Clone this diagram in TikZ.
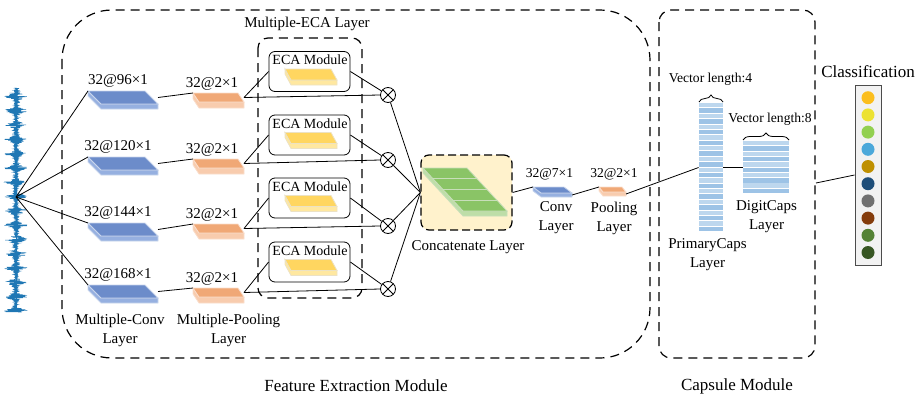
\documentclass[tikz,border=0pt]{standalone}
\usepackage{fontspec}
\setmainfont{Liberation Serif}
\usetikzlibrary{decorations.pathreplacing}

\definecolor{sigblue}{RGB}{31,119,180}
\definecolor{convtop}{RGB}{108,140,202}
\definecolor{convside}{RGB}{150,176,224}
\definecolor{convedge}{RGB}{200,213,236}
\definecolor{pooltop}{RGB}{240,168,118}
\definecolor{poolside}{RGB}{248,204,174}
\definecolor{pooledge}{RGB}{250,222,204}
\definecolor{ecatop}{RGB}{255,214,96}
\definecolor{ecaside}{RGB}{255,232,160}
\definecolor{ecaedge}{RGB}{236,226,196}
\definecolor{cattop}{RGB}{138,196,102}
\definecolor{catside}{RGB}{190,222,168}
\definecolor{catedge}{RGB}{200,222,186}
\definecolor{catfill}{RGB}{255,242,204}
\definecolor{capsA}{RGB}{189,215,238}
\definecolor{capsB}{RGB}{157,195,230}
\definecolor{clsA}{RGB}{251,190,30}
\definecolor{clsB}{RGB}{236,226,50}
\definecolor{clsC}{RGB}{146,208,80}
\definecolor{clsD}{RGB}{75,168,218}
\definecolor{clsE}{RGB}{191,144,0}
\definecolor{clsF}{RGB}{31,78,121}
\definecolor{clsG}{RGB}{112,112,112}
\definecolor{clsH}{RGB}{132,60,12}
\definecolor{clsI}{RGB}{84,130,53}
\definecolor{clsJ}{RGB}{55,86,35}

% flat 3d block: name, x, y, width, dx, dy, height, colour prefix
\newcommand{\slab}[8]{%
  \filldraw[draw=#8edge, fill=#8side] (#2,#3) -- ++(#5,#6) -- ++(#4,0) -- ++(0,#7) -- ++(-#4,0) -- ++(-#5,-#6) -- cycle;
  \filldraw[draw=#8edge, fill=#8top] (#2,#3) -- ++(#4,0) -- ++(#5,#6) -- ++(-#4,0) -- cycle;
  \coordinate (#1-in) at (#2,#3);
  \coordinate (#1-out) at ({#2+#4+#5},{#3+#6/2});
  \coordinate (#1-low) at ({#2+#4+#5},{#3+#6+#7/2});
}

\begin{document}
\begin{tikzpicture}[x=1pt,y=-1pt,line width=0.8pt]
  \tikzstyle{every node}=[font=\fontsize{15}{19}\selectfont, align=center, inner sep=0pt]
  \tikzstyle{module}=[draw, dash pattern=on 9pt off 6pt, line width=1.2pt]
  \tikzstyle{big}=[font=\fontsize{17}{21}\selectfont]
  \tikzstyle{small}=[font=\fontsize{13.6}{16}\selectfont]
  \tikzstyle{ecabox}=[draw, rounded corners=6pt, minimum width=81, minimum height=40]
  \tikzstyle{mult}=[circle, draw, fill=white, minimum size=15,
    path picture={\draw (path picture bounding box.north west) -- (path picture bounding box.south east)
      (path picture bounding box.south west) -- (path picture bounding box.north east);}]
  \tikzstyle{clsdot}=[circle, minimum size=13]
  \useasboundingbox (0,0) rectangle (915,399);

  % input signal
  \pgfmathsetseed{7}
  \draw[sigblue, line width=0.6pt] plot[domain=88:312, samples=1500, variable=\t]
    ({16+(1.8+10*exp(-1*pow(mod(\t-78.7,14.3)-3.5,2)/7))*rand}, \t);
  \draw[sigblue, line width=0.8pt] (16,88) -- (16,312);
  \coordinate (src) at (16,197);

  % module frames
  \draw[module, rounded corners=50pt] (62,10) rectangle (650,358);
  \draw[module, rounded corners=12pt] (659,10) rectangle (815,358);
  \draw[module, rounded corners=10pt] (258,38) rectangle (362,298);
  \node (fem) [big] at (356,386) {Feature Extraction Module};
  \node (cm) [big] at (737,386) {Capsule Module};
  \node (mel) at (307,24) {Multiple-ECA Layer};

  \node[draw, dash pattern=on 8pt off 4pt, line width=1.2pt, fill=catfill, rounded corners=8pt,
    minimum width=91, minimum height=75] (cat) at (466.5,192.5) {};
  \slab{green}{423}{168}{44}{40}{43}{5}{cat}
  \foreach \f in {0.25,0.5,0.75}
    \draw[catedge, line width=1.2pt] ({423+40*\f},{168+43*\f}) -- ++(44,0);
  \node (catl) at (468,247) {Concatenate Layer};

  % four parallel branches
  \foreach \i/\cy/\py/\ey/\xy/\k in {1/91/93/71.5/95/96, 2/157/159/135/160/120,
      3/223/224/198/226/144, 4/285/288/262/289/168} {
    \slab{conv\i}{88}{\cy}{57}{13}{13}{5}{conv}
    \node (cl\i) at (118,\cy-10.5) {32@\k×1};
    \slab{pool\i}{193}{\py}{45}{6}{9}{6}{pool}
    \node (pl\i) at (212,\py-9.5) {32@2×1};
    \node[ecabox] (eca\i) at (309.5,\ey) {};
    \node (et\i) [font=\fontsize{14}{16}\selectfont] at (310,\ey-11.5) {ECA Module};
    \slab{att\i}{285}{\ey-2.5}{46}{6}{11}{5}{eca}
    \node[mult] (x\i) at (388,\xy) {};
    \draw (src) -- (conv\i-in);
    \draw (conv\i-out) -- (pool\i-in);
    \draw (pool\i-out) -- (eca\i.west);
    \draw (pool\i-out) -- (x\i.west);
    \draw (eca\i.east) -- (x\i);
    \draw (x\i) -- (cat.west);
  }
  \node (mcl) at (120,330) {Multiple-Conv\\Layer};
  \node (mpl) at (228.5,330) {Multiple-Pooling\\Layer};

  % conv and pooling after concatenation
  \slab{sconv}{533}{187}{31}{8}{6}{4}{conv}
  \slab{spool}{599}{187}{23}{4}{5}{4}{pool}
  \node (scl) [small] at (549.5,174) {32@7×1};
  \node (spl) [small] at (614,174) {32@2×1};
  \node (scn) at (556,218) {Conv\\Layer};
  \node (spn) at (614,218) {Pooling\\Layer};
  \draw (cat.east) -- (sconv-in);
  \draw (sconv-low) -- (spool-in);

  % capsule layers
  \node[minimum width=24, minimum height=129] (prim) at (711,167.5) {};
  \foreach \i in {0,2,...,22}
    \fill[capsA] (699,{103+5.375*\i}) rectangle ++(24,4.4);
  \foreach \i in {1,3,...,23}
    \fill[capsB] (699,{103+5.375*\i}) rectangle ++(24,4.4);
  \node[minimum width=46, minimum height=53] (digit) at (766,167.5) {};
  \foreach \i in {0,2,...,8}
    \fill[capsA] (743,{141+5.3*\i}) rectangle ++(46,4.4);
  \foreach \i in {1,3,...,9}
    \fill[capsB] (743,{141+5.3*\i}) rectangle ++(46,4.4);
  \draw[decorate, decoration={brace, amplitude=7pt}] (699,102) -- (723,102);
  \draw[decorate, decoration={brace, amplitude=7pt}] (743,140) -- (789,140);
  \node (v4) [small] at (710.5,79) {Vector length:4};
  \node (v8) [small] at (770,119) {Vector length:8};
  \node (pcl) at (707.5,254.5) {PrimaryCaps\\Layer};
  \node (dcl) at (766.5,217) {DigitCaps\\Layer};
  \draw (spool-low) -- (prim.west);
  \draw (prim.east) -- (digit.west);

  % output classes
  \node[draw=black!70, line width=1pt, fill=black!5, minimum width=26, minimum height=180] (cls) at (868,175) {};
  \node (clt) [big] at (868,72) {Classification};
  \foreach \c [count=\i] in {clsA,clsB,clsC,clsD,clsE,clsF,clsG,clsH,clsI,clsJ}
    \node[clsdot, fill=\c] (c\i) at (868,{80.5+17.2*\i}) {};
  \coordinate (capR) at (816,183);
  \draw (capR) -- (cls.west);
\end{tikzpicture}
\end{document}
